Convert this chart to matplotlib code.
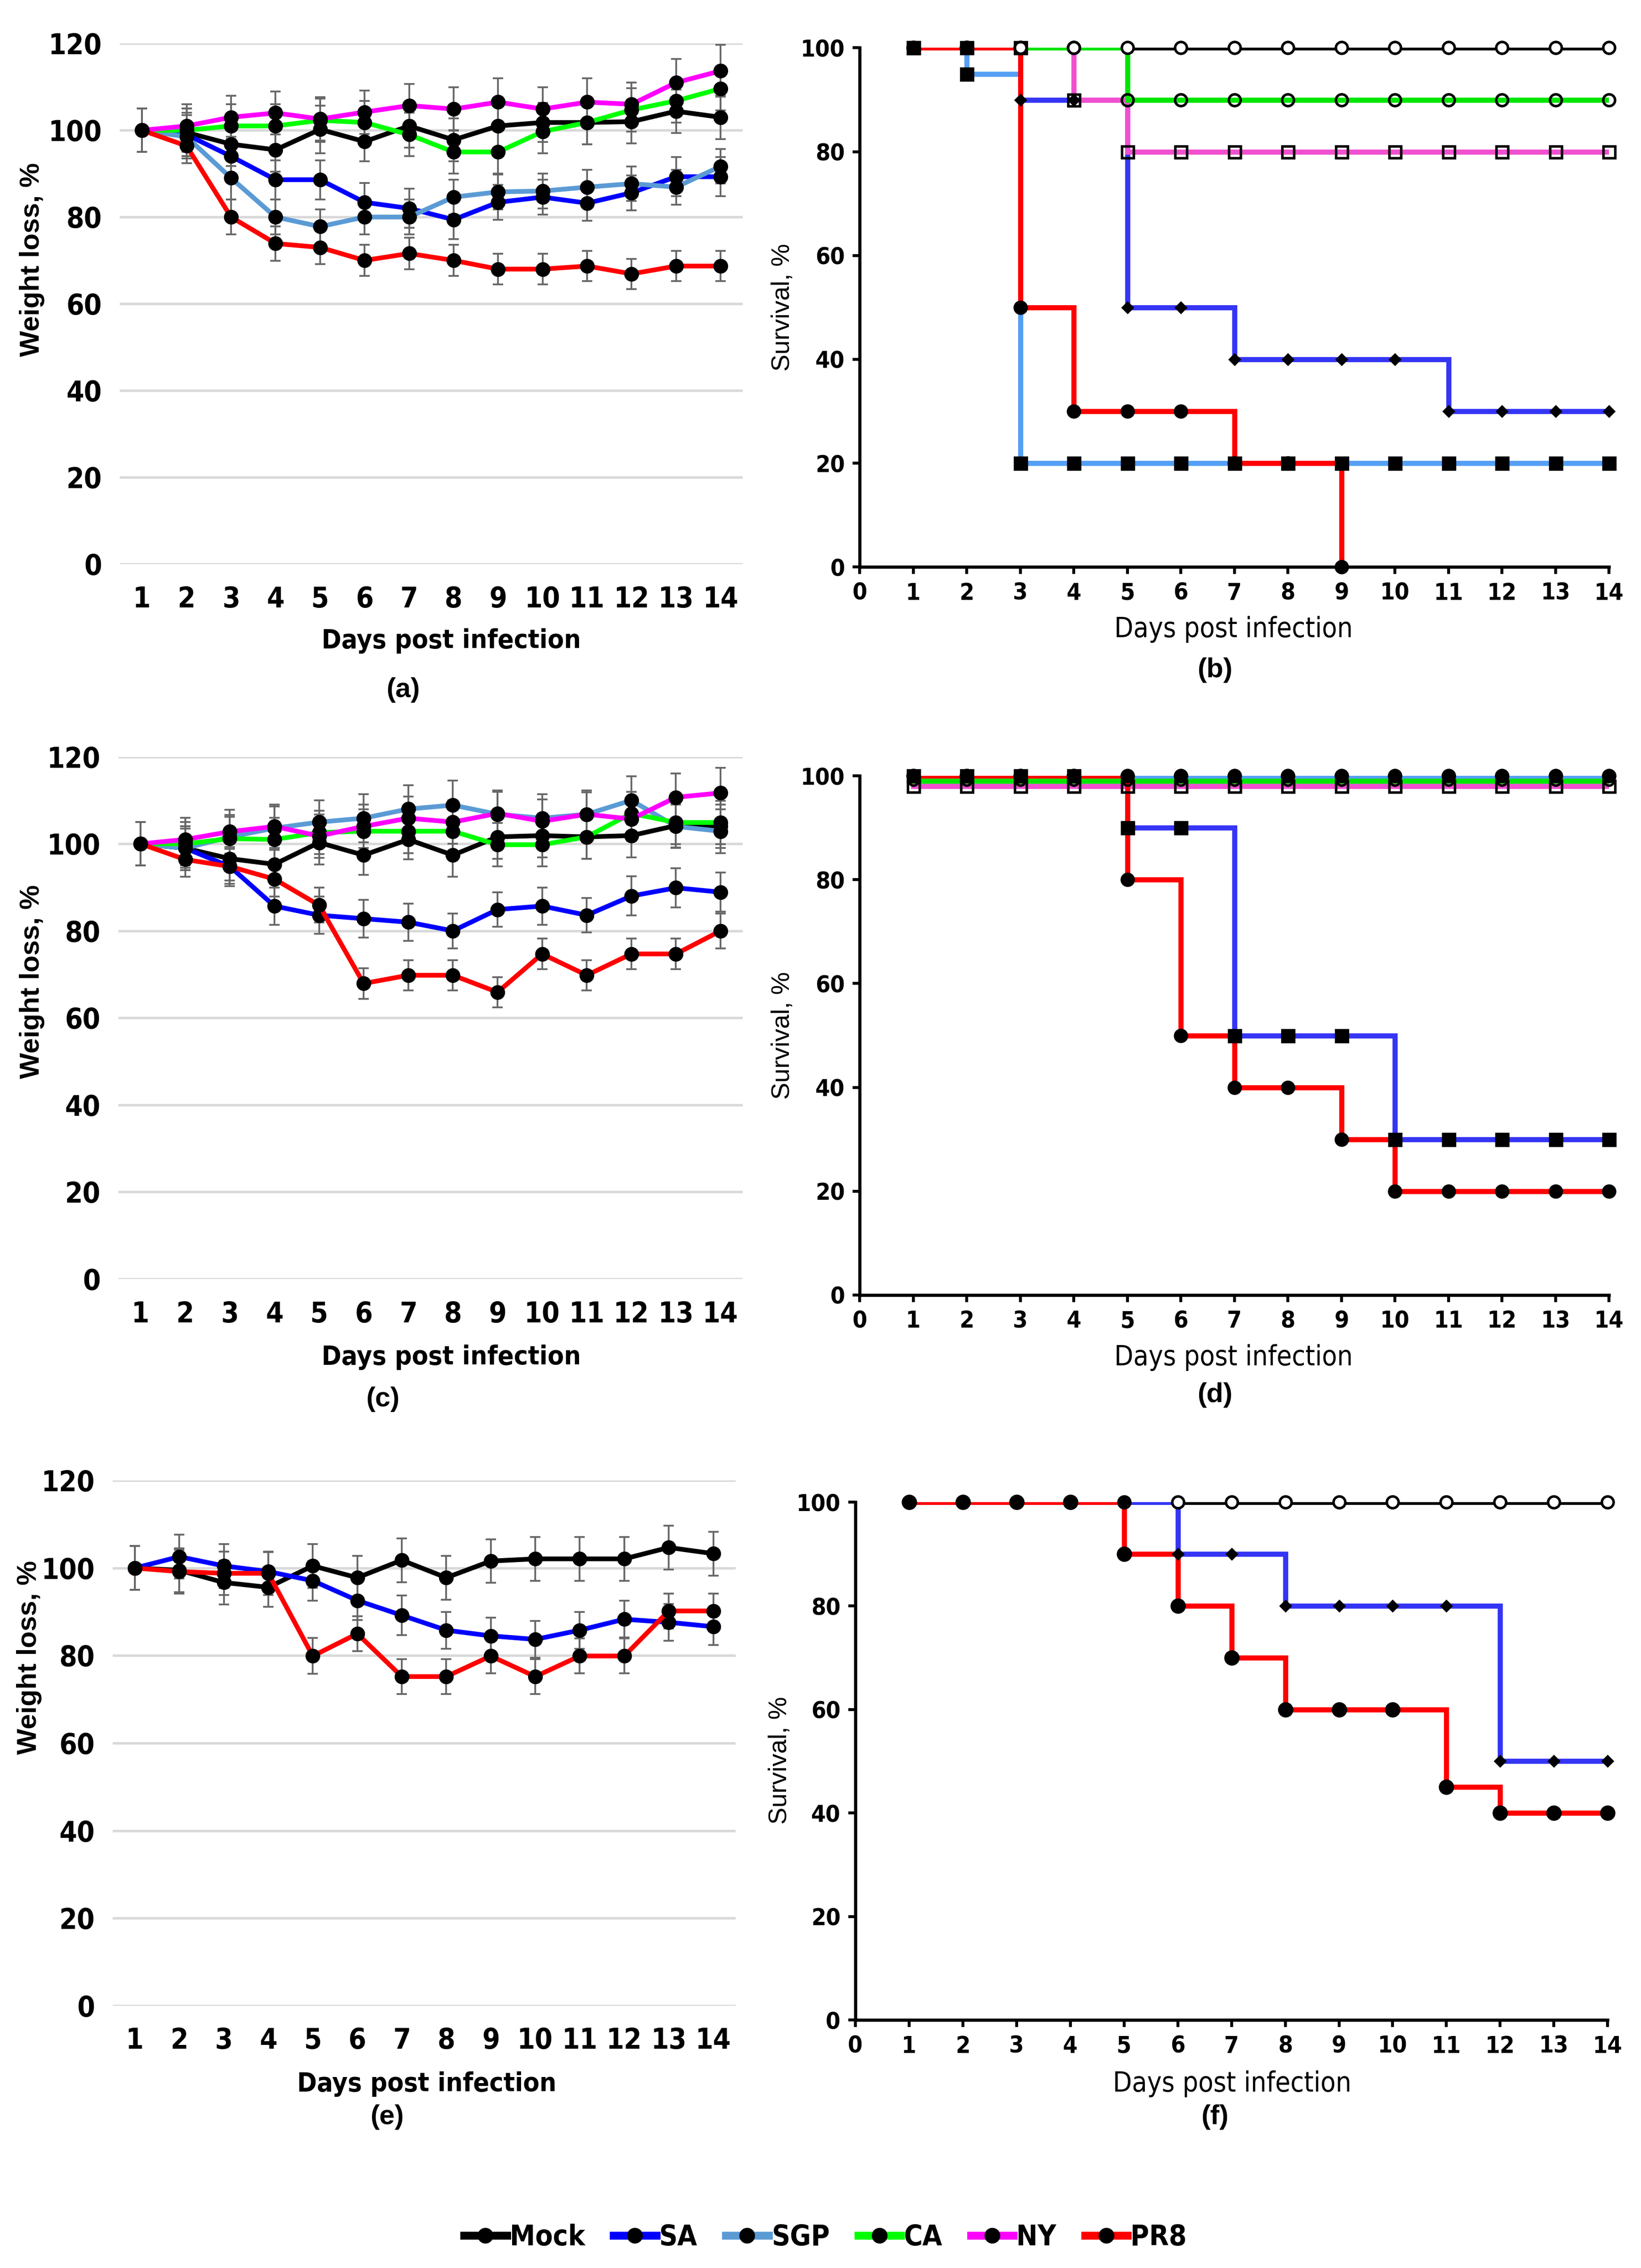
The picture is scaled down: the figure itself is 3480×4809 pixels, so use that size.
import os
import numpy as np
import matplotlib
matplotlib.use("Agg")
import matplotlib.pyplot as plt
from matplotlib import font_manager as fm
from matplotlib.lines import Line2D

plt.rcParams['font.family'] = ['Liberation Sans', 'DejaVu Sans']

days = np.arange(1, 15)
groups = ["Mock", "SA", "SGP", "CA", "NY", "PR8"]
weight_colors = ["#000000", "#0000FF", "#5B9BD5", "#00FF00", "#FF00FF", "#FF0000"]
surv_colors = {"Mock": "#000000", "SA": "#3535F5", "SGP": "#55A0F5",
               "CA": "#00E600", "NY": "#F050D0", "PR8": "#FF0000"}

# ---- weight loss, panel (a)
wa_mock = [100, 99.5, 96.8, 95.5, 100.2, 97.4, 101.0, 97.8, 101.0, 101.8, 101.8, 102.0, 104.4, 103.0]
wa_sa = [100, 99.0, 94.0, 88.6, 88.6, 83.4, 82.0, 79.4, 83.4, 84.6, 83.2, 85.6, 89.3, 89.3]
wa_sgp = [100, 98.5, 89.0, 80.0, 77.8, 80.0, 80.0, 84.6, 85.8, 86.0, 86.9, 87.7, 86.9, 91.7]
wa_ca = [100, 100.0, 101.0, 101.0, 102.3, 101.8, 99.0, 95.0, 95.0, 99.7, 101.8, 104.7, 106.8, 109.6]
wa_ny = [100, 101.0, 103.0, 104.0, 102.6, 104.2, 105.7, 104.9, 106.5, 104.9, 106.5, 106.0, 111.0, 113.7]
wa_pr8 = [100, 96.4, 80.0, 73.9, 73.0, 70.0, 71.6, 70.0, 68.0, 68.0, 68.7, 66.9, 68.7, 68.7]
ea_mock = [5.0, 5.5, 5.0, 5.0, 5.5, 4.5, 5.0, 5.0, 5.0, 4.5, 5.0, 5.0, 5.0, 5.0]
ea_sa = [5.0, 5.0, 4.5, 4.5, 4.5, 4.5, 4.5, 4.5, 4.0, 4.0, 4.0, 4.0, 4.5, 4.5]
ea_sgp = [5.0, 5.0, 5.0, 4.0, 4.0, 4.0, 4.0, 4.0, 4.0, 4.0, 4.0, 4.0, 4.0, 4.0]
ea_ca = [5.0, 5.0, 5.0, 5.0, 5.0, 5.0, 5.0, 5.0, 5.0, 5.0, 5.0, 5.0, 5.0, 5.0]
ea_ny = [5.0, 5.0, 5.0, 5.0, 5.0, 5.0, 5.0, 5.0, 5.5, 5.0, 5.5, 5.0, 5.5, 6.0]
ea_pr8 = [5.0, 4.0, 4.0, 4.0, 3.8, 3.6, 3.6, 3.6, 3.5, 3.5, 3.5, 3.5, 3.5, 3.5]

# ---- weight loss, panel (c)
wc_mock = [100, 99.0, 96.6, 95.3, 100.3, 97.4, 101.0, 97.4, 101.6, 101.9, 101.6, 101.9, 104.2, 104.0]
wc_sa = [100, 99.0, 94.8, 85.7, 83.6, 82.8, 82.0, 80.0, 84.9, 85.7, 83.6, 88.0, 89.9, 88.9]
wc_sgp = [100, 99.0, 101.6, 103.6, 105.0, 105.9, 108.0, 108.9, 106.8, 105.9, 106.8, 110.0, 104.0, 102.9]
wc_ca = [100, 100.0, 101.2, 101.0, 102.6, 102.9, 102.9, 102.9, 99.8, 99.8, 101.6, 107.0, 104.9, 104.9]
wc_ny = [100, 101.0, 102.8, 104.0, 101.8, 104.0, 105.9, 105.0, 107.0, 105.2, 106.8, 105.7, 110.7, 111.7]
wc_pr8 = [100, 96.4, 94.8, 91.9, 85.9, 67.9, 69.8, 69.8, 65.9, 74.7, 69.8, 74.7, 74.7, 80.0]
ec_mock = [5.0, 5.0, 5.0, 4.5, 5.0, 4.5, 4.5, 5.0, 5.0, 5.0, 5.0, 5.0, 5.0, 5.0]
ec_sa = [5.0, 4.5, 4.5, 4.3, 4.3, 4.3, 4.3, 4.0, 4.0, 4.3, 4.0, 4.5, 4.5, 4.5]
ec_sgp = [5.0, 5.0, 5.0, 5.0, 5.0, 5.5, 5.5, 5.7, 5.5, 5.5, 5.5, 5.5, 5.0, 5.0]
ec_ca = [5.0, 5.0, 5.0, 5.0, 5.0, 5.0, 5.0, 5.0, 5.0, 5.0, 5.0, 5.0, 5.0, 5.0]
ec_ny = [5.0, 5.0, 5.0, 5.0, 5.0, 5.0, 5.0, 5.0, 5.0, 5.0, 5.0, 5.0, 5.5, 5.8]
ec_pr8 = [5.0, 4.0, 4.0, 4.0, 4.0, 3.5, 3.5, 3.5, 3.5, 3.5, 3.5, 3.5, 3.5, 4.0]

# ---- weight loss, panel (e)
we_mock = [100, 99.5, 96.7, 95.6, 100.5, 97.8, 101.8, 97.8, 101.6, 102.1, 102.1, 102.1, 104.7, 103.3]
we_sa = [100, 102.6, 100.5, 99.2, 97.1, 92.6, 89.2, 85.8, 84.5, 83.7, 85.8, 88.3, 87.6, 86.6]
we_pr8 = [100, 99.2, 98.8, 98.8, 79.9, 85.0, 75.2, 75.2, 79.9, 75.2, 79.9, 79.9, 90.2, 90.2]
ee_mock = [5.0, 5.0, 5.0, 4.5, 5.0, 5.0, 5.0, 5.0, 5.0, 5.0, 5.0, 5.0, 5.0, 5.0]
ee_sa = [5.0, 5.0, 5.0, 4.5, 4.5, 4.5, 4.5, 4.2, 4.2, 4.2, 4.2, 4.2, 4.2, 4.2]
ee_pr8 = [5.0, 5.0, 5.0, 5.0, 4.1, 4.0, 4.0, 4.0, 4.0, 4.0, 4.0, 4.0, 4.0, 4.0]

# ---- survival, panel (b)
sb_mock = [100, 100, 100, 100, 100, 100, 100, 100, 100, 100, 100, 100, 100, 100]
sb_sa = [100, 100, 90, 90, 50, 50, 40, 40, 40, 40, 30, 30, 30, 30]
sb_sgp = [100, 95, 20, 20, 20, 20, 20, 20, 20, 20, 20, 20, 20, 20]
sb_ca = [100, 100, 100, 100, 90, 90, 90, 90, 90, 90, 90, 90, 90, 90]
sb_ny = [100, 100, 100, 90, 80, 80, 80, 80, 80, 80, 80, 80, 80, 80]
sb_pr8 = [100, 100, 50, 30, 30, 30, 20, 20, 0]

# ---- survival, panel (d)
sd_mock = [100, 100, 100, 100, 100, 100, 100, 100, 100, 100, 100, 100, 100, 100]
sd_sa = [100, 100, 100, 100, 90, 90, 50, 50, 50, 30, 30, 30, 30, 30]
sd_sgp = [100, 100, 100, 100, 100, 100, 100, 100, 100, 100, 100, 100, 100, 100]
sd_ca = [99, 99, 99, 99, 99, 99, 99, 99, 99, 99, 99, 99, 99, 99]
sd_ny = [98, 98, 98, 98, 98, 98, 98, 98, 98, 98, 98, 98, 98, 98]
sd_pr8 = [100, 100, 100, 100, 80, 50, 40, 40, 30, 20, 20, 20, 20, 20]

# ---- survival, panel (f)
sf_mock = [100, 100, 100, 100, 100, 100, 100, 100, 100, 100, 100, 100, 100, 100]
sf_sa = [100, 100, 100, 100, 100, 90, 90, 80, 80, 80, 80, 50, 50, 50]
sf_pr8 = [100, 100, 100, 100, 90, 80, 70, 60, 60, 60, 45, 40, 40, 40]


# the original uses a narrow (Arial Narrow like) face; take one if there is one
def narrow_file(bold):
    files = [f.fname for f in fm.fontManager.ttflist]
    for key in ('liberationsansnarrow', 'notosans-condensed', 'dejavusanscondensed',
                'robotocondensed', 'opensans-condensed'):
        for fn in files:
            b = os.path.basename(fn).lower()
            if not b.startswith(key):
                continue
            stem = b.rsplit('.', 1)[0][len(key):]
            if bold and stem in ('-bold', 'bold'):
                return fn
            if not bold and stem in ('', '-regular', 'regular'):
                return fn
    return None


NARROW_B = narrow_file(True)
NARROW_R = narrow_file(False)


def fp(size, bold=True, narrow=True):
    path = (NARROW_B if bold else NARROW_R) if narrow else None
    if path:
        return fm.FontProperties(fname=path, size=size)
    return fm.FontProperties(family=['Liberation Sans', 'DejaVu Sans'],
                             weight='bold' if bold else 'normal', size=size)


def draw_weight(ax, curves, errs, cols):
    for y, e, c in zip(curves, errs, cols):
        ax.errorbar(days, y, yerr=e, color=c, lw=2.4, marker='o', ms=6.5,
                    mfc='black', mec='black', ecolor='#666666', elinewidth=0.9,
                    capsize=2.6, capthick=0.9, zorder=3)
    ax.set_xlim(0.5, 14.5)
    ax.set_ylim(0, 120)
    ax.set_xticks(days)
    ax.set_yticks(range(0, 121, 20))
    ax.grid(axis='y', color='#d9d9d9', lw=1.3)
    ax.set_axisbelow(True)
    for s in ax.spines.values():
        s.set_visible(False)
    ax.tick_params(axis='x', length=0, pad=11)
    ax.tick_params(axis='y', length=0, pad=9)
    for lbl in ax.get_xticklabels() + ax.get_yticklabels():
        lbl.set_fontproperties(fp(14.5))


def draw_surv(ax, curves):
    # curves: (values, name, marker, markersize, facecolor)
    for vals, name, mk, ms, fc in curves:
        x = days[:len(vals)]
        ax.plot(x, vals, drawstyle='steps-post', color=surv_colors[name],
                lw=2.6, solid_joinstyle='miter', zorder=2)
        ax.plot(x, vals, ls='none', marker=mk, ms=ms, mfc=fc, mec='black',
                mew=1.3, clip_on=False, zorder=3)
    ax.set_xlim(0, 14)
    ax.set_ylim(0, 100)
    ax.set_xticks(range(0, 15))
    ax.set_yticks(range(0, 101, 20))
    ax.spines['top'].set_visible(False)
    ax.spines['right'].set_visible(False)
    for s in ['left', 'bottom']:
        ax.spines[s].set_linewidth(1.6)
    ax.tick_params(length=3.5, width=1.5, pad=4)
    for lbl in ax.get_xticklabels() + ax.get_yticklabels():
        lbl.set_fontproperties(fp(12))


fig = plt.figure(figsize=(11.6, 16.03), dpi=300)

ax_a = fig.add_axes([0.0730, 0.7513, 0.3797, 0.2295])
ax_b = fig.add_axes([0.5239, 0.7500, 0.4567, 0.2289])
ax_c = fig.add_axes([0.0721, 0.4361, 0.3806, 0.2302])
ax_d = fig.add_axes([0.5239, 0.4290, 0.4567, 0.2289])
ax_e = fig.add_axes([0.0686, 0.1157, 0.3796, 0.2315])
ax_f = fig.add_axes([0.5212, 0.1093, 0.4585, 0.2283])

draw_weight(ax_a, [wa_mock, wa_sa, wa_sgp, wa_ca, wa_ny, wa_pr8],
            [ea_mock, ea_sa, ea_sgp, ea_ca, ea_ny, ea_pr8], weight_colors)
draw_weight(ax_c, [wc_mock, wc_sa, wc_sgp, wc_ca, wc_ny, wc_pr8],
            [ec_mock, ec_sa, ec_sgp, ec_ca, ec_ny, ec_pr8], weight_colors)
draw_weight(ax_e, [we_mock, we_sa, we_pr8], [ee_mock, ee_sa, ee_pr8],
            [weight_colors[0], weight_colors[1], weight_colors[5]])

draw_surv(ax_b, [(sb_mock, "Mock", 'o', 6, 'white'),
                 (sb_sgp, "SGP", 's', 6, 'black'),
                 (sb_sa, "SA", 'D', 3.5, 'black'),
                 (sb_ny, "NY", 's', 6, 'none'),
                 (sb_ca, "CA", 'o', 6, 'none'),
                 (sb_pr8, "PR8", 'o', 6, 'black')])
draw_surv(ax_d, [(sd_mock, "Mock", 'o', 6, 'black'),
                 (sd_sgp, "SGP", 'o', 6, 'black'),
                 (sd_ny, "NY", 's', 6, 'none'),
                 (sd_ca, "CA", 'o', 4.5, 'none'),
                 (sd_sa, "SA", 's', 6, 'black'),
                 (sd_pr8, "PR8", 'o', 6, 'black')])
draw_surv(ax_f, [(sf_mock, "Mock", 'o', 6, 'white'),
                 (sf_sa, "SA", 'D', 3.5, 'black'),
                 (sf_pr8, "PR8", 'o', 6.5, 'black')])

# axis titles and panel letters
for x, y in [(0.2750, 0.7174), (0.2750, 0.4015), (0.2600, 0.0812)]:
    fig.text(x, y, "Days post infection", ha='center', va='center',
             fontproperties=fp(13.5))
for x, y in [(0.7518, 0.7225), (0.7518, 0.4015), (0.7509, 0.0812)]:
    fig.text(x, y, "Days post infection", ha='center', va='center',
             fontproperties=fp(14, bold=False))
for x, y in [(0.0194, 0.8855), (0.0194, 0.5671), (0.0177, 0.2692)]:
    fig.text(x, y, "Weight loss, %", ha='center', va='center', rotation=90,
             fontproperties=fp(14, narrow=False))
for x, y in [(0.4770, 0.8645), (0.4770, 0.5435), (0.4753, 0.2238)]:
    fig.text(x, y, "Survival, %", ha='center', va='center', rotation=90,
             fontproperties=fp(13, bold=False, narrow=False))
for lab, x, y in [("(a)", 0.2456, 0.6957), ("(b)", 0.7403, 0.7046),
                  ("(c)", 0.2332, 0.3830), ("(d)", 0.7403, 0.3849),
                  ("(e)", 0.2359, 0.0665), ("(f)", 0.7403, 0.0665)]:
    fig.text(x, y, lab, ha='center', va='center', fontproperties=fp(14, narrow=False))

handles = [Line2D([], [], color=c, lw=4, marker='o', ms=7, mfc='black', mec='black')
           for c in weight_colors]
fig.legend(handles, groups, loc='center', bbox_to_anchor=(0.503, 0.0134), ncol=6,
           frameon=False, handlelength=1.5, handletextpad=0.1, columnspacing=1.0,
           prop=fp(14.5))

fig.savefig("out.png", dpi=300)
